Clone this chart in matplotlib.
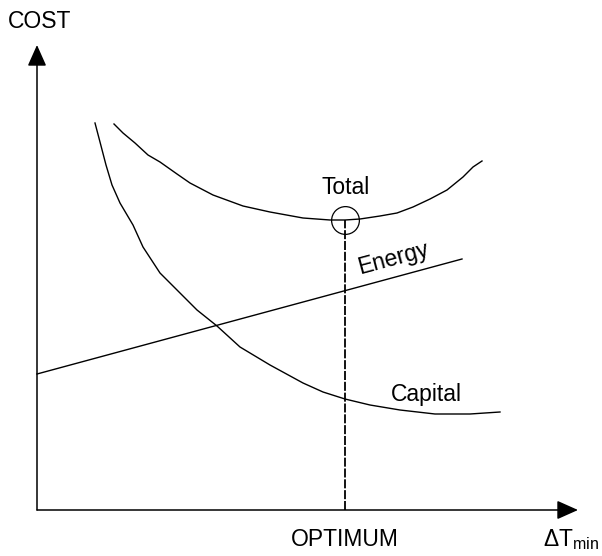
import numpy as np
import matplotlib
matplotlib.use("Agg")
import matplotlib.pyplot as plt

plt.rcParams["font.family"] = ["Liberation Sans", "DejaVu Sans"]
plt.rcParams["mathtext.fontset"] = "custom"
plt.rcParams["mathtext.rm"] = "Liberation Sans"
plt.rcParams["mathtext.it"] = "Liberation Sans"

# curve data (dT_min on x, cost on y; arbitrary units)
capital_x = [58, 63, 69, 75, 83, 96, 106, 123, 143, 160, 180, 203, 233, 266, 286, 308, 333, 363, 398, 433, 463]
capital_y = [387, 368, 345, 325, 307, 285, 263, 237, 217, 200, 184, 163, 145, 127, 118, 111, 105, 100, 96, 96, 98]

total_x = [77, 86, 98, 111, 123, 140, 153, 176, 206, 233, 266, 293, 308, 323, 343, 360, 376, 393, 410, 426, 436, 445]
total_y = [386, 377, 367, 355, 348, 336, 327, 315, 304, 298, 292, 290, 290, 291, 294, 297, 303, 311, 320, 333, 343, 349]

energy_x = [0, 425]
energy_y = [136, 251]

optimum_x = 308
optimum_y = 290

fig = plt.figure(figsize=(6.02, 5.56), dpi=100)
ax = fig.add_axes([0, 0, 1, 1])
ax.set_xlim(-37, 565)
ax.set_ylim(-46, 510)
ax.axis("off")

lw = 1.0
ax.plot(capital_x, capital_y, color="black", lw=lw)
ax.plot(total_x, total_y, color="black", lw=lw)
ax.plot(energy_x, energy_y, color="black", lw=lw)

# optimum marker + dashed drop line
ax.plot([optimum_x, optimum_x], [0, optimum_y], color="black", lw=1.3,
        dashes=(5, 1))
ax.plot([optimum_x], [optimum_y], marker="o", ms=20, mfc="none",
        mec="black", mew=0.9)

# axes with arrows
arrow = dict(arrowstyle="-|>,head_length=1.3,head_width=0.58",
             color="black", lw=1.1, shrinkA=0, shrinkB=0, mutation_scale=10)
ax.annotate("", xy=(0, 465), xytext=(0, 0), arrowprops=arrow)
ax.annotate("", xy=(541, 0), xytext=(0, 0), arrowprops=arrow)

fs = 16.5
ax.text(2.5, 488, "COST", fontsize=fs, ha="center", va="center")
ax.text(308.5, 323, "Total", fontsize=fs, ha="center", va="center")
ax.text(356, 252, "Energy", fontsize=fs, ha="center", va="center", rotation=15)
ax.text(389, 115, "Capital", fontsize=fs, ha="center", va="center")
ax.text(308, -30, "OPTIMUM", fontsize=fs, ha="center", va="center")
ax.text(506, -30, r"$\Delta\mathrm{T}_{\mathrm{min}}$", fontsize=fs,
        ha="left", va="center")

fig.savefig("out.png", dpi=100)
